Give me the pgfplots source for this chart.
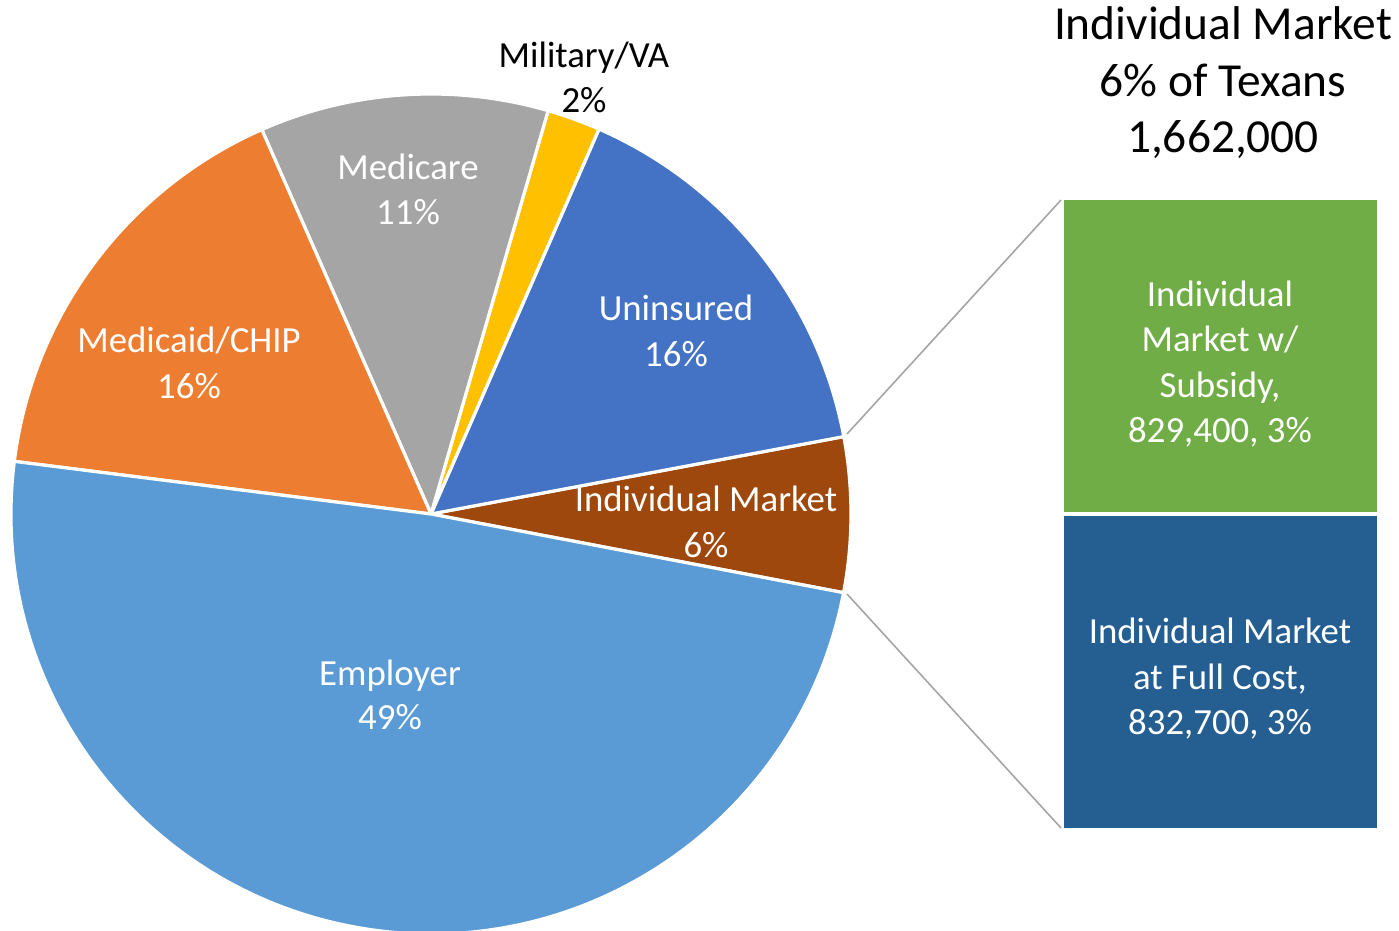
\documentclass[border=0pt]{standalone}
\usepackage{pgfplots}
\pgfplotsset{compat=1.18}
\usepackage{pgfplotstable}
\usepackage{fontspec}
\setmainfont{Carlito}
\definecolor{cEmp}{HTML}{5B9BD5}
\definecolor{cMcd}{HTML}{ED7D31}
\definecolor{cMcr}{HTML}{A5A5A5}
\definecolor{cMil}{HTML}{FFC000}
\definecolor{cUni}{HTML}{4472C4}
\definecolor{cInd}{HTML}{9E480E}
\definecolor{cGrn}{HTML}{70AD47}
\definecolor{cDbl}{HTML}{255E91}
\definecolor{cLine}{HTML}{A5A5A5}
\begin{document}
\begin{tikzpicture}
% pie shares (percent), counter-clockwise from the Individual Market wedge
\def\pInd{5.95}
\def\pUni{15.5}
\def\pMil{2.05}
\def\pMcr{11.1}
\def\pMcd{16.4}
\def\pEmp{49.0}
\def\sA{-10.8}
\pgfmathsetmacro\eA{\sA+3.6*\pInd}
\pgfmathsetmacro\eB{\eA+3.6*\pUni}
\pgfmathsetmacro\eC{\eB+3.6*\pMil}
\pgfmathsetmacro\eD{\eC+3.6*\pMcr}
\pgfmathsetmacro\eE{\eD+3.6*\pMcd}
\pgfmathsetmacro\eF{\eE+3.6*\pEmp}
\def\R{210pt}
\begin{axis}[
  x=0.5pt, y=0.5pt,
  xmin=0, xmax=1399, ymin=0, ymax=931,
  hide axis,
]
\path (axis cs:0,0) rectangle (axis cs:1399,931);
\tikzset{wedge/.style={draw=white, line width=1.6pt, line join=round}}
\fill[cInd, wedge] (axis cs:431,417) -- ++(\sA:\R) arc[start angle=\sA, end angle=\eA, radius=\R] -- cycle;
\fill[cUni, wedge] (axis cs:431,417) -- ++(\eA:\R) arc[start angle=\eA, end angle=\eB, radius=\R] -- cycle;
\fill[cMil, wedge] (axis cs:431,417) -- ++(\eB:\R) arc[start angle=\eB, end angle=\eC, radius=\R] -- cycle;
\fill[cMcr, wedge] (axis cs:431,417) -- ++(\eC:\R) arc[start angle=\eC, end angle=\eD, radius=\R] -- cycle;
\fill[cMcd, wedge] (axis cs:431,417) -- ++(\eD:\R) arc[start angle=\eD, end angle=\eE, radius=\R] -- cycle;
\fill[cEmp, wedge] (axis cs:431,417) -- ++(\eE:\R) arc[start angle=\eE, end angle=\eF, radius=\R] -- cycle;

% bar of pie
\addplot[fill=cGrn, draw=none] coordinates {(1064,419) (1377,419) (1377,731) (1064,731)} -- cycle;
\addplot[fill=cDbl, draw=none] coordinates {(1064,103) (1377,103) (1377,415) (1064,415)} -- cycle;
% connector lines
\addplot[draw=cLine, line width=0.8pt] coordinates {(847,497) (1061,731)};
\addplot[draw=cLine, line width=0.8pt] coordinates {(847,337) (1061,103)};

\tikzset{lab/.style={anchor=base, inner sep=0pt, font=\fontsize{18.4}{22}\selectfont},
         ttl/.style={anchor=base, inner sep=0pt, font=\fontsize{23.7}{28}\selectfont}}
% pie labels
\node[lab, black] at (axis cs:584,863) {Military/VA};
\node[lab, black] at (axis cs:584,818) {2\%};
\node[lab, white] at (axis cs:408,751) {Medicare};
\node[lab, white] at (axis cs:408,706) {11\%};
\node[lab, white] at (axis cs:676,610) {Uninsured};
\node[lab, white] at (axis cs:676,564) {16\%};
\node[lab, white] at (axis cs:189,578) {Medicaid/CHIP};
\node[lab, white] at (axis cs:189,532) {16\%};
\node[lab, white] at (axis cs:706,419) {Individual Market};
\node[lab, white] at (axis cs:706,373) {6\%};
\node[lab, white] at (axis cs:390,245) {Employer};
\node[lab, white] at (axis cs:390,201) {49\%};
% bar labels
\node[lab, white] at (axis cs:1220,624) {Individual};
\node[lab, white] at (axis cs:1220,579) {Market w/};
\node[lab, white] at (axis cs:1220,533) {Subsidy,};
\node[lab, white] at (axis cs:1220,488) {829,400, 3\%};
\node[lab, white] at (axis cs:1220,287) {Individual Market};
\node[lab, white] at (axis cs:1220,241) {at Full Cost,};
\node[lab, white] at (axis cs:1220,196) {832,700, 3\%};
% title
\node[ttl, black] at (axis cs:1223,891) {Individual Market};
\node[ttl, black] at (axis cs:1223,834) {6\% of Texans};
\node[ttl, black] at (axis cs:1223,778) {1,662,000};
\end{axis}
\end{tikzpicture}
\end{document}
